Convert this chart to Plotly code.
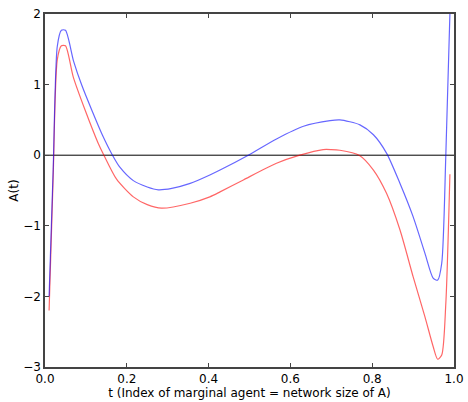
import plotly.graph_objects as go

t_blue = [0.01, 0.02, 0.03, 0.04, 0.05, 0.07, 0.09, 0.115, 0.14, 0.165, 0.183, 0.216, 0.25, 0.277,
          0.31, 0.355, 0.403, 0.428, 0.497, 0.566, 0.632, 0.697, 0.721, 0.770, 0.803, 0.835,
          0.868, 0.90, 0.929, 0.949, 0.96, 0.97, 0.98, 0.99]
a_blue = [-2.0, -0.2, 1.54, 1.77, 1.77, 1.33, 0.99, 0.63, 0.29, 0.0, -0.17, -0.36, -0.45, -0.49,
          -0.47, -0.40, -0.28, -0.21, 0.0, 0.23, 0.41, 0.49, 0.50, 0.43, 0.29, 0.03,
          -0.40, -0.87, -1.39, -1.74, -1.77, -1.53, 0.0, 2.0]

t_red = [0.01, 0.02, 0.03, 0.04, 0.05, 0.069, 0.098, 0.13, 0.144, 0.175, 0.216, 0.25, 0.285,
         0.355, 0.403, 0.428, 0.485, 0.566, 0.623, 0.68, 0.70, 0.721, 0.768, 0.803, 0.835,
         0.868, 0.90, 0.929, 0.949, 0.96, 0.97, 0.98, 0.99]
a_red = [-2.2, -0.3, 1.35, 1.55, 1.55, 1.11, 0.64, 0.17, 0.0, -0.34, -0.59, -0.70, -0.75,
         -0.68, -0.59, -0.52, -0.35, -0.115, 0.0, 0.08, 0.08, 0.07, 0.0, -0.21, -0.54,
         -1.06, -1.72, -2.29, -2.71, -2.89, -2.83, -2.1, -0.27]

zero_t = [0.0, 1.0]
zero_a = [0.0, 0.0]

x_ticks = [0.0, 0.2, 0.4, 0.6, 0.8, 1.0]
y_ticks = [-3, -2, -1, 0, 1, 2]

fig = go.Figure()
fig.add_trace(go.Scatter(x=zero_t, y=zero_a, mode="lines",
                         line=dict(color="black", width=1), hoverinfo="skip"))
fig.add_trace(go.Scatter(x=t_red, y=a_red, mode="lines",
                         line=dict(color="rgba(255,0,0,0.6)", width=1.2,
                                   shape="spline", smoothing=0.7)))
fig.add_trace(go.Scatter(x=t_blue, y=a_blue, mode="lines",
                         line=dict(color="rgba(0,0,255,0.6)", width=1.2,
                                   shape="spline", smoothing=0.7)))

axis_common = dict(showgrid=False, zeroline=False, showline=True, linecolor="#444",
                   linewidth=1.5, mirror="allticks", ticks="inside", ticklen=4,
                   tickcolor="#444", automargin=False,
                   tickfont=dict(family="DejaVu Sans", size=12, color="black"))

fig.update_layout(
    width=468, height=402,
    margin=dict(l=45, r=14, t=14, b=35),
    paper_bgcolor="white", plot_bgcolor="white",
    showlegend=False,
    font=dict(family="DejaVu Sans", size=12, color="black"),
    xaxis=dict(range=[0, 1], tickvals=x_ticks, tickformat=".1f",
               title=dict(text="t (Index of marginal agent = network size of A)",
                          font=dict(size=12), standoff=2), **axis_common),
    yaxis=dict(range=[-3, 2], tickvals=y_ticks,
               title=dict(text="A(t)", font=dict(size=12), standoff=2), **axis_common),
)

fig.write_html("out.html", config={"displayModeBar": False},
               post_script="document.body.style.margin='0';")
